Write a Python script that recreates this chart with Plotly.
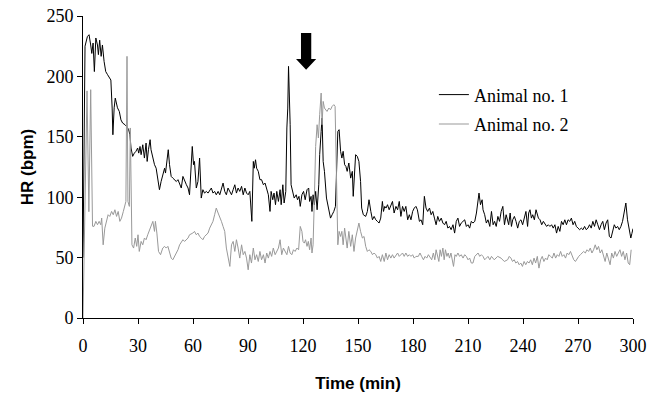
import plotly.graph_objects as go

# ---- data ----
t1 = [0, 0.7, 1.1, 2.4, 3.3, 4.2, 4.8, 5.5, 6.2, 7.0, 7.9, 8.4, 9.1, 9.9, 10.6, 11.5, 12.4, 13.4, 14.3, 15.2,
      15.9, 16.3, 17.0, 17.6, 18.8, 19.8, 20.7, 21.6, 22.9, 23.8, 24.9, 25.6, 26.2, 27.1, 28.0, 28.9, 29.8, 30.4,
      31.1, 31.7, 32.6, 33.5, 34.4, 35.0, 35.7, 36.6, 37.1, 38.1, 39.0, 39.9, 40.8, 41.7, 42.6, 43.5, 44.5, 45.0,
      45.7, 46.5, 47.2, 48.1, 49.0, 50.0, 50.9, 51.8, 52.7, 53.6, 54.5, 55.4, 56.4, 57.3, 58.1, 59.6, 60.3, 60.8,
      61.8, 62.7, 63.6, 64.5, 65.4, 66.3, 67.3, 68.2, 69.1, 70.0, 70.9, 71.8, 72.7, 73.7, 74.6, 75.5, 76.4, 77.3,
      78.2, 79.1, 80.1, 81.0, 81.9, 82.8, 83.7, 84.6, 85.5, 86.5, 87.4, 88.3, 89.2, 90.1, 91.0, 91.6, 92.1, 92.9,
      93.4, 94.1, 94.7, 95.6, 96.5, 97.4, 98.4, 99.3, 100.2, 101.1, 102.0, 102.6, 103.5, 104.2, 105.0, 105.7,
      106.6, 107.5, 108.1, 109.0, 109.7, 110.6, 111.2, 111.7, 112.1, 113.0, 113.5, 114.5, 115.2, 116.3, 117.0,
      117.8, 118.5, 119.4, 120.3, 121.2, 122.2, 123.1, 123.6, 124.4, 124.9, 125.5, 126.2, 126.9, 127.7, 128.6,
      129.1, 129.9, 130.4, 131.0, 131.7, 132.8, 134.1, 135.0, 135.9, 136.8, 137.7, 138.3, 139.0, 139.7, 140.5,
      141.2, 141.9, 142.7, 143.4, 144.1, 145.0, 146.0, 146.9, 147.4, 148.2, 148.7, 149.6, 150.5, 151.4, 152.0,
      152.9, 154.2, 155.1, 156.0, 157.0, 157.9, 158.8, 159.7, 160.6, 161.5, 162.4, 163.3, 163.9, 164.6, 165.3,
      166.1, 167.0, 167.9, 168.8, 169.7, 170.7, 171.6, 172.5, 173.4, 174.3, 175.2, 176.1, 177.1, 178.0, 178.9,
      179.8, 180.7, 181.6, 182.4, 183.5, 184.4, 185.3, 186.2, 187.1, 188.0, 189.0, 189.9, 190.8, 191.7, 192.6,
      193.5, 194.4, 195.4, 196.3, 197.2, 198.1, 199.0, 199.9, 200.8, 201.8, 202.7, 203.6, 204.5, 205.4, 206.3,
      207.3, 208.2, 209.1, 210.0, 210.9, 211.8, 212.7, 213.7, 214.6, 215.5, 216.0, 216.8, 217.7, 218.2, 219.1,
      220.0, 220.9, 221.9, 222.8, 223.7, 224.5, 225.4, 226.3, 227.2, 228.1, 229.0, 229.9, 230.8, 231.7, 232.2,
      233.0, 233.7, 234.4, 235.3, 236.2, 237.1, 238.0, 238.9, 239.8, 240.7, 241.6, 242.5, 243.1, 243.8, 244.6,
      245.3, 246.2, 247.1, 247.7, 248.4, 249.3, 250.2, 251.1, 252.0, 252.9, 253.8, 254.7, 255.6, 256.5, 257.4,
      258.3, 259.2, 260.1, 261.0, 261.9, 262.8, 263.7, 264.6, 265.5, 266.4, 267.3, 268.2, 269.1, 270.0, 270.9,
      271.8, 272.7, 273.6, 274.5, 275.4, 276.3, 277.2, 278.1, 279.0, 279.9, 280.8, 281.7, 282.6, 283.5, 284.4,
      285.3, 286.2, 287.1, 288.0, 288.9, 289.8, 290.7, 291.6, 292.5, 293.4, 294.3, 295.2, 296.1, 297.0, 298.0,
      298.8, 299.4, 300.0]
hr1 = [50, 222, 225, 233, 234.5, 226, 219, 227.6, 204, 231.8, 226, 218, 230, 216.6, 226, 212.4, 204, 201.4,
       198.6, 197, 173.8, 151.7, 174, 182, 174, 171, 164, 161.4, 160, 158.6, 155.9, 151.7, 140.7, 133.8, 136.5,
       138, 140.7, 136.5, 142, 135.2, 143.4, 132.4, 144.8, 129.6, 139.3, 147.6, 139.3, 132.4, 126.9, 124, 115.8,
       106.2, 113, 118.6, 124, 120, 131, 139.3, 126.9, 117.2, 115.8, 114.5, 113, 114.5, 110.3, 107.6, 117.2, 113,
       110.3, 107.6, 102, 142, 126.9, 129.6, 107.6, 113, 132.4, 99.3, 106.2, 103.4, 104.8, 103.4, 106.2, 107.6,
       103.4, 104.8, 102, 104.8, 102, 106.2, 111.7, 104.8, 102, 107.6, 104.8, 102, 106.2, 110.3, 103.4, 107.6,
       104.8, 109, 102, 107.6, 103.4, 102, 104.8, 93.8, 80, 129.6, 124, 131, 124, 121.4, 114.5, 114.5, 110.3,
       111.7, 107.6, 102, 88.2, 104.8, 97.9, 103.4, 93.8, 104.8, 96.5, 106.2, 93.8, 110.3, 95.2, 104.8, 157.3,
       173.8, 208.3, 160, 110.3, 102, 99.3, 102, 97.9, 100.7, 92.4, 102, 104.8, 97.9, 106.2, 107.6, 96.5, 100.7,
       88.2, 102, 93.8, 104.8, 89.6, 110.3, 135.2, 154.5, 165.5, 129.6, 121.4, 99.3, 88.2, 82.7, 85.5, 88.2,
       92.4, 118.6, 154.5, 155.9, 138, 132.4, 138, 126.9, 125.5, 121.4, 128.3, 115.8, 121.4, 100.7, 117.2, 135.2,
       133.8, 129.6, 113, 91, 85.5, 84.1, 88.2, 97.9, 88.2, 81.3, 84.1, 81.3, 80, 78.6, 82.7, 96.5, 88.2, 92.4,
       91, 93.8, 89.6, 92.4, 96.5, 86.9, 92.4, 89.6, 96.5, 84.1, 92.4, 88.2, 92.4, 81.3, 85.5, 81.3, 88.2, 91,
       92.4, 89.6, 80, 81.3, 77.2, 100.7, 91, 88.2, 91, 85.5, 88.2, 82.7, 77.2, 84.1, 80, 82.7, 78.6, 77.2, 80,
       74.4, 75.8, 73.1, 77.2, 70.3, 80, 82.7, 75.8, 78.6, 80, 81.3, 75.8, 77.2, 74.4, 80, 78.6, 80, 86.9, 95.2,
       103.4, 93.8, 97.9, 89.6, 85.5, 78.6, 81.3, 75.8, 88.2, 77.2, 80, 75.8, 84.1, 80, 88.2, 92.4, 77.2, 85.5,
       81.3, 77.2, 86.9, 75.8, 81.3, 84.1, 80, 74.4, 80, 81.3, 77.2, 82.7, 88.2, 75.8, 86.9, 89.6, 82.7, 85.5,
       81.3, 89.6, 86.9, 82.7, 81.3, 77.2, 80, 77.2, 75.8, 77.2, 75.8, 77.2, 74.4, 77.2, 70.3, 75.8, 71.7, 80,
       77.2, 81.3, 77.2, 81.3, 80, 82.7, 77.2, 80, 75.8, 74.4, 73.1, 74.4, 73.1, 75.8, 73.1, 74.4, 77.2, 74.4,
       80, 75.8, 81.3, 77.2, 73.1, 77.2, 80, 73.1, 78.6, 81.3, 67.5, 66.2, 71.7, 77.2, 74.4, 75.8, 73.1, 75.8,
       80, 86.9, 95.2, 81.3, 71.7, 66.2, 70, 74]

t2 = [0, 1.2, 2.2, 3.2, 4.2, 5.2, 6.0, 7.0, 7.9, 8.8, 9.7, 10.2, 11.0, 11.9, 12.8, 13.7, 14.6, 15.6, 16.5,
      17.4, 18.3, 19.2, 20.1, 21.0, 22.0, 22.9, 23.4, 24.0, 24.5, 25.3, 25.8, 26.7, 27.6, 28.5, 29.3, 30.0,
      30.7, 31.7, 32.6, 33.5, 34.4, 35.3, 36.2, 37.1, 38.1, 39.0, 39.5, 40.3, 41.2, 42.3, 43.5, 44.5, 45.4,
      46.3, 47.2, 48.1, 49.0, 50.0, 50.9, 51.8, 52.7, 53.6, 54.5, 55.4, 56.4, 57.3, 58.1, 59.9, 60.8, 61.8,
      62.7, 63.6, 64.5, 65.4, 66.3, 67.3, 68.2, 69.1, 70.0, 70.9, 71.8, 72.7, 73.7, 74.6, 75.5, 76.4, 77.3,
      78.2, 79.1, 80.1, 81.0, 81.9, 82.8, 83.7, 84.6, 85.5, 86.5, 87.4, 88.3, 89.2, 90.1, 91.0, 91.9, 92.9,
      93.8, 94.7, 95.6, 96.5, 97.4, 98.4, 99.3, 100.2, 101.1, 102.0, 102.9, 103.8, 104.8, 105.7, 106.6, 107.5,
      108.4, 109.3, 110.3, 111.2, 112.1, 113.0, 113.9, 114.8, 115.7, 116.7, 117.6, 118.5, 119.4, 120.0, 120.7,
      121.4, 122.2, 122.9, 123.6, 124.4, 124.9, 125.5, 126.2, 126.9, 127.7, 128.4, 129.1, 129.9, 130.4, 131.0,
      131.7, 132.4, 133.1, 134.1, 135.0, 135.9, 136.8, 137.5, 138.3, 139.0, 139.7, 140.5, 141.2, 141.9, 142.7,
      143.4, 144.1, 145.0, 146.0, 146.9, 147.8, 148.7, 149.6, 150.5, 151.4, 152.4, 153.3, 154.2, 155.1, 156.0,
      157.0, 157.9, 158.8, 159.7, 160.6, 161.5, 162.4, 163.3, 164.3, 165.2, 166.1, 167.0, 167.9, 168.8, 169.7,
      170.7, 171.6, 172.5, 173.4, 174.3, 175.2, 176.1, 177.1, 178.0, 178.9, 179.8, 180.7, 181.6, 182.9, 183.8,
      184.7, 185.7, 186.6, 187.5, 188.4, 189.3, 190.2, 191.1, 191.9, 192.6, 193.3, 194.1, 194.8, 195.5, 196.3,
      197.0, 197.7, 198.5, 199.2, 199.9, 200.7, 201.4, 202.1, 202.9, 203.6, 204.5, 205.4, 206.3, 207.3, 208.2,
      209.1, 210.0, 210.9, 211.8, 212.7, 213.7, 214.6, 215.5, 216.4, 217.3, 218.2, 219.1, 220.0, 220.9, 221.9,
      222.8, 224.3, 226.2, 228.0, 229.8, 231.6, 232.5, 233.4, 234.3, 235.2, 236.1, 237.0, 237.9, 238.8, 239.7,
      240.6, 241.5, 242.4, 243.3, 244.2, 245.1, 246.0, 246.9, 247.8, 248.7, 249.6, 250.5, 251.4, 252.3, 253.2,
      254.1, 255.0, 256.0, 256.9, 257.8, 258.7, 259.6, 260.5, 261.4, 262.3, 263.2, 264.1, 265.0, 265.9, 266.8,
      267.7, 268.6, 269.5, 270.4, 271.3, 272.2, 273.1, 274.0, 274.9, 275.8, 276.7, 277.6, 278.5, 279.4, 280.3,
      281.2, 282.1, 283.0, 283.9, 284.8, 285.7, 286.6, 287.5, 288.4, 289.3, 290.2, 291.1, 292.0, 292.9, 293.8,
      294.7, 295.6, 296.5, 297.4, 298.2, 299.0, 300.0]
hr2 = [0, 120, 188, 88, 189, 76, 75.8, 80, 77.2, 80, 77.2, 82.7, 60.6, 74.4, 80, 85.5, 84.1, 88.2, 85.5, 89.6,
       84.1, 88.2, 80, 82.7, 88.2, 92.4, 96.5, 216.6, 96.5, 92.4, 157.3, 60.6, 57.9, 66.2, 59.3, 68.9, 55.1,
       63.4, 60.6, 66.2, 64.8, 68.9, 73.1, 77.2, 80, 71.7, 80, 70.3, 55.1, 52.4, 57.9, 59.3, 57.9, 59.3, 53.8,
       49.6, 48.2, 51, 53.8, 56.5, 60.6, 63.4, 64.8, 63.4, 64.8, 66.2, 68.9, 70.3, 71.7, 68.9, 70.3, 67.5, 66.2,
       64.8, 67.5, 68.9, 70.3, 74.4, 77.2, 80, 85.5, 91, 86.9, 84.1, 80, 75.8, 71.7, 57.9, 49.6, 42.7, 60.6,
       63.4, 55.1, 64.8, 57.9, 49.6, 60.6, 52.4, 55.1, 49.6, 39.9, 52.4, 45.5, 57.9, 48.2, 52.4, 46.8, 55.1,
       48.2, 52.4, 45.5, 53.8, 49.6, 55.1, 51, 57.9, 52.4, 55.1, 57.9, 64.8, 52.4, 57.9, 55.1, 52.4, 59.3, 53.8,
       52.4, 56.5, 55.1, 57.9, 56.5, 75.8, 71.7, 63.4, 62, 64.8, 59.3, 63.4, 56.5, 66.2, 53.8, 60.6, 99.3, 142,
       160, 149, 168.3, 186.2, 160, 179.3, 173.8, 172.4, 171, 173.8, 172.4, 175.2, 176.6, 175.2, 118.6, 60.6,
       71.7, 67.5, 71.7, 60.6, 74.4, 63.4, 57.9, 71.7, 59.3, 68.9, 55.1, 66.2, 71.7, 78.6, 71.7, 66.2, 67.5,
       59.3, 55.1, 56.5, 55.1, 52.4, 53.8, 52.4, 49.6, 51, 46.8, 52.4, 46.8, 53.8, 48.2, 52.4, 49.6, 52.4, 49.6,
       52.4, 53.8, 51, 52.4, 53.8, 51, 53.8, 51, 52.4, 51, 52.4, 49.6, 51, 51, 53.8, 51, 48.2, 51, 49.6, 52.4,
       49.6, 48.2, 53.8, 48.2, 56.5, 51, 46.8, 56.5, 51, 57.9, 48.2, 56.5, 51, 53.8, 49.6, 53.8, 48.2, 42.7,
       52.4, 51, 53.8, 51, 52.4, 49.6, 52.4, 51, 48.2, 49.6, 45.5, 45.5, 51, 52.4, 53.8, 51, 52.4, 51, 48.2,
       49.6, 51, 48.2, 51, 48.2, 51, 49.6, 46.8, 48.2, 51, 49.6, 46.8, 48.2, 45.5, 46.8, 44.1, 45.5, 42.7,
       46.8, 44.1, 46.8, 45.5, 48.2, 44.1, 49.6, 45.5, 51, 41.3, 48.2, 51, 46.8, 49.6, 48.2, 52.4, 51, 49.6,
       53.8, 49.6, 52.4, 51, 55.1, 51, 52.4, 49.6, 53.8, 52.4, 55.1, 51, 48.2, 46.8, 49.6, 51, 52.4, 53.8, 55.1,
       53.8, 56.5, 55.1, 57.9, 53.8, 56.5, 60.6, 56.5, 59.3, 53.8, 56.5, 51, 46.8, 53.8, 49.6, 44.1, 53.8, 49.6,
       55.1, 51, 53.8, 56.5, 51, 55.1, 48.2, 53.8, 45.5, 44.1, 56.5]

series_names = ["Animal no. 1", "Animal no. 2"]
series_colors = ["#000000", "#999999"]
x_ticks = [0, 30, 60, 90, 120, 150, 180, 210, 240, 270, 300]
y_ticks = [0, 50, 100, 150, 200, 250]
arrow_time = 121.7          # event marker (min)
arrow_top, arrow_neck, arrow_tip = 236, 214.5, 205.5

serif = "Liberation Serif, Times New Roman, serif"
sans = "Liberation Sans, Arial, sans-serif"

fig = go.Figure()
for t, hr, name, col, grp in [(t1, hr1, series_names[0], series_colors[0], "a"),
                              (t2, hr2, series_names[1], series_colors[1], "b")]:
    fig.add_trace(go.Scatter(x=t, y=hr, mode="lines", name=name, legendgroup=grp,
                             line=dict(color=col, width=1)))

# Downward arrow marking the event
sw, hw = 2.8, 5.5
path = (f"M {arrow_time - sw},{arrow_top} L {arrow_time + sw},{arrow_top} "
        f"L {arrow_time + sw},{arrow_neck} L {arrow_time + hw},{arrow_neck} "
        f"L {arrow_time},{arrow_tip} L {arrow_time - hw},{arrow_neck} "
        f"L {arrow_time - sw},{arrow_neck} Z")
fig.add_shape(type="path", path=path, xref="x", yref="y",
              fillcolor="black", line=dict(color="black", width=0))

fig.update_layout(
    width=662, height=401,
    margin=dict(l=83, r=29, t=16, b=83),
    plot_bgcolor="white", paper_bgcolor="white",
    showlegend=True,
    legend=dict(x=0.638, y=0.80, xanchor="left", yanchor="top",
                font=dict(family=serif, size=18, color="black"),
                bgcolor="rgba(0,0,0,0)", tracegroupgap=3),
    xaxis=dict(range=[0, 300], tickvals=x_ticks, ticks="outside", ticklen=5,
               tickcolor="black", showline=True, linecolor="black", linewidth=1,
               showgrid=False, zeroline=False, ticklabelstandoff=6, automargin=False,
               ticklabeloverflow="allow",
               tickfont=dict(family=serif, size=18, color="black"),
               title=dict(text="<b>Time (min)</b>", standoff=22,
                          font=dict(family=sans, size=17, color="black"))),
    yaxis=dict(range=[0, 250], tickvals=y_ticks, ticks="outside", ticklen=5,
               tickcolor="black", showline=True, linecolor="black", linewidth=1,
               showgrid=False, zeroline=False, automargin=False,
               ticklabeloverflow="allow",
               tickfont=dict(family=serif, size=18, color="black"),
               title=dict(text="<b>HR (bpm)</b>", standoff=8,
                          font=dict(family=sans, size=17, color="black"))),
)

# remove the page's default 8 px body margin so the figure fills the window exactly
fig.write_html("out.html", config={"displayModeBar": False},
               post_script="document.body.style.margin='0px';document.body.style.overflow='hidden';")
